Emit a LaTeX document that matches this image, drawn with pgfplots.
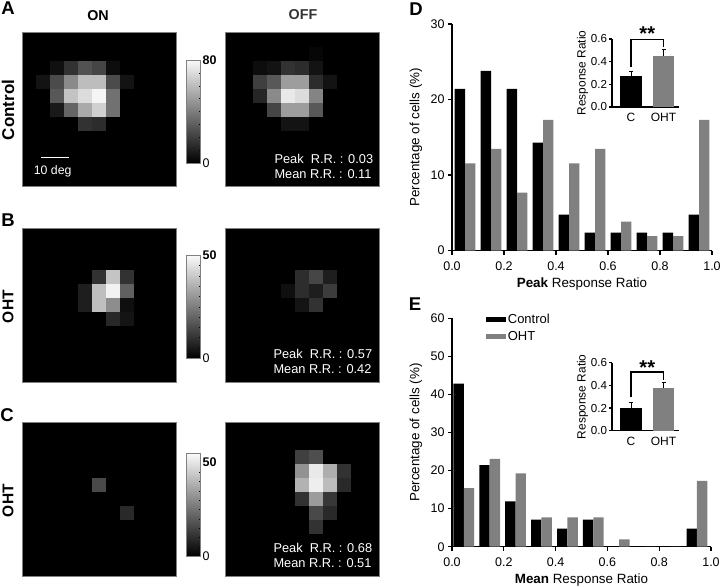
\documentclass[border=0pt]{standalone}
\usepackage{fontspec}
\setmainfont{Liberation Sans}
\usepackage{pgfplots}
\pgfplotsset{compat=1.18}

\definecolor{ohtgray}{HTML}{808080}
\newcommand{\fs}[1]{\fontsize{#1}{#1}\selectfont}

\pgfplotsset{
  heat/.style={
    scale only axis,width=154pt,height=154pt,
    xmin=-0.5,xmax=10.5,ymin=-0.5,ymax=10.5,y dir=reverse,
    ticks=none,axis line style={gray,line width=0.5pt},
    axis background/.style={fill=black},
    colormap={bw}{gray(0cm)=(0);gray(1cm)=(0.98)},
    enlargelimits=false,axis on top,
  },
  heatcells/.style={matrix plot*,shader=faceted,faceted color=mapped color,line width=0.2pt,mesh/cols=11,point meta=explicit},
  heatbar/.style n args={3}{
    colorbar,
    colorbar style={
      at={(parent axis.south east)},anchor=south west,xshift=2pt,yshift=#1,
      width=13.5pt,height=103pt,
      axis line style={gray,line width=0.7pt},
      ytick={0,#2},yticklabels={0,\textbf{#2}},
      minor y tick num=#3,
      ytick pos=right,yticklabel pos=right,
      tick align=inside,major tick length=0pt,minor tick length=1.5pt,
      minor tick style={black,line width=0.4pt},
      yticklabel style={font=\fs{12.5},xshift=-1pt,/pgf/number format/assume math mode=true},
    },
  },
  hist/.style={
    scale only axis,xmin=0,xmax=1,ymin=0,
    axis x line*=bottom,axis y line*=left,
    axis line style={-,line width=1.3pt},
    tick style={black,line width=1.3pt},tick align=outside,major tick length=4pt,
    xtick={0,0.2,0.4,0.6,0.8,1},
    xticklabel style={yshift=-4pt,font=\fs{12.5},/pgf/number format/.cd,fixed,fixed zerofill,precision=1,assume math mode=true},
    yticklabel style={font=\fs{12.5},/pgf/number format/assume math mode=true},
    ylabel={Percentage of cells (\%)},
    ylabel style={yshift=1.5pt},
    label style={font=\fs{13.4}},
    ybar=0pt,bar width=0.04,clip=false,
  },
  inset/.style={
    scale only axis,width=67pt,height=68pt,xmin=0.415,xmax=2.477,ymin=0,ymax=0.6,
    axis x line*=bottom,axis y line*=left,
    axis line style={-,line width=1.3pt},
    tick style={black,line width=1.3pt},tick align=outside,major tick length=3pt,
    xtick={1,2},xticklabels={C,OHT},
    ytick={0,0.2,0.4,0.6},
    x tick style={draw=none},
    xticklabel style={font=\fs{12}},
    yticklabel style={xshift=1.5pt,font=\fs{11.6},/pgf/number format/.cd,fixed,fixed zerofill,precision=1,assume math mode=true},
    ylabel={Response Ratio},
    ylabel style={yshift=-4pt},
    label style={font=\fs{11.9}},
    clip=false,
  },
  insbar/.style={ybar,bar width=0.66,bar shift=0pt,fill=#1,draw=none,
    error bars/.cd,y dir=plus,y explicit,
    error bar style={black,line width=1pt},
    error mark options={black,rotate=90,mark size=2pt,line width=1pt}},
}

\begin{document}
\begin{tikzpicture}
\useasboundingbox (0,0) rectangle (722pt,586pt);

% A ON
\begin{axis}[heat,at={(22pt,399.3pt)},anchor=south west,point meta min=0,point meta max=80,heatbar={23.7pt}{80}{7}]
\addplot[heatcells] coordinates {
(0,0)[0](1,0)[0](2,0)[0](3,0)[0](4,0)[0](5,0)[0](6,0)[0](7,0)[0](8,0)[0](9,0)[0](10,0)[0]
(0,1)[0](1,1)[0](2,1)[0](3,1)[0](4,1)[0](5,1)[0](6,1)[0](7,1)[0](8,1)[0](9,1)[0](10,1)[0]
(0,2)[0](1,2)[0](2,2)[5](3,2)[16](4,2)[26](5,2)[22](6,2)[4](7,2)[0](8,2)[0](9,2)[0](10,2)[0]
(0,3)[0](1,3)[6](2,3)[24](3,3)[44](4,3)[60](5,3)[60](6,3)[24](7,3)[6](8,3)[0](9,3)[0](10,3)[0]
(0,4)[0](1,4)[0](2,4)[28](3,4)[62](4,4)[70](5,4)[78](6,4)[36](7,4)[0](8,4)[0](9,4)[0](10,4)[0]
(0,5)[0](1,5)[0](2,5)[8](3,5)[32](4,5)[54](5,5)[66](6,5)[36](7,5)[0](8,5)[0](9,5)[0](10,5)[0]
(0,6)[0](1,6)[0](2,6)[0](3,6)[0](4,6)[16](5,6)[14](6,6)[0](7,6)[0](8,6)[0](9,6)[0](10,6)[0]
(0,7)[0](1,7)[0](2,7)[0](3,7)[0](4,7)[0](5,7)[0](6,7)[0](7,7)[0](8,7)[0](9,7)[0](10,7)[0]
(0,8)[0](1,8)[0](2,8)[0](3,8)[0](4,8)[0](5,8)[0](6,8)[0](7,8)[0](8,8)[0](9,8)[0](10,8)[0]
(0,9)[0](1,9)[0](2,9)[0](3,9)[0](4,9)[0](5,9)[0](6,9)[0](7,9)[0](8,9)[0](9,9)[0](10,9)[0]
(0,10)[0](1,10)[0](2,10)[0](3,10)[0](4,10)[0](5,10)[0](6,10)[0](7,10)[0](8,10)[0](9,10)[0](10,10)[0]
};
\end{axis}

% A OFF
\begin{axis}[heat,at={(225.3pt,399.3pt)},anchor=south west,point meta min=0,point meta max=80]
\addplot[heatcells] coordinates {
(0,0)[0](1,0)[0](2,0)[0](3,0)[0](4,0)[0](5,0)[0](6,0)[0](7,0)[0](8,0)[0](9,0)[0](10,0)[0]
(0,1)[0](1,1)[0](2,1)[0](3,1)[0](4,1)[0](5,1)[0](6,1)[2](7,1)[0](8,1)[0](9,1)[0](10,1)[0]
(0,2)[0](1,2)[0](2,2)[4](3,2)[6](4,2)[16](5,2)[14](6,2)[6](7,2)[0](8,2)[0](9,2)[0](10,2)[0]
(0,3)[0](1,3)[0](2,3)[20](3,3)[28](4,3)[50](5,3)[50](6,3)[14](7,3)[6](8,3)[0](9,3)[0](10,3)[0]
(0,4)[0](1,4)[0](2,4)[12](3,4)[44](4,4)[74](5,4)[70](6,4)[42](7,4)[0](8,4)[0](9,4)[0](10,4)[0]
(0,5)[0](1,5)[0](2,5)[0](3,5)[22](4,5)[50](5,5)[50](6,5)[28](7,5)[0](8,5)[0](9,5)[0](10,5)[0]
(0,6)[0](1,6)[0](2,6)[0](3,6)[0](4,6)[6](5,6)[6](6,6)[0](7,6)[0](8,6)[0](9,6)[0](10,6)[0]
(0,7)[0](1,7)[0](2,7)[0](3,7)[0](4,7)[0](5,7)[0](6,7)[0](7,7)[0](8,7)[0](9,7)[0](10,7)[0]
(0,8)[0](1,8)[0](2,8)[0](3,8)[0](4,8)[0](5,8)[0](6,8)[0](7,8)[0](8,8)[0](9,8)[0](10,8)[0]
(0,9)[0](1,9)[0](2,9)[0](3,9)[0](4,9)[0](5,9)[0](6,9)[0](7,9)[0](8,9)[0](9,9)[0](10,9)[0]
(0,10)[0](1,10)[0](2,10)[0](3,10)[0](4,10)[0](5,10)[0](6,10)[0](7,10)[0](8,10)[0](9,10)[0](10,10)[0]
};
\end{axis}

% B ON
\begin{axis}[heat,at={(22pt,203.7pt)},anchor=south west,point meta min=0,point meta max=50,heatbar={24pt}{50}{9}]
\addplot[heatcells] coordinates {
(0,0)[0](1,0)[0](2,0)[0](3,0)[0](4,0)[0](5,0)[0](6,0)[0](7,0)[0](8,0)[0](9,0)[0](10,0)[0]
(0,1)[0](1,1)[0](2,1)[0](3,1)[0](4,1)[0](5,1)[0](6,1)[0](7,1)[0](8,1)[0](9,1)[0](10,1)[0]
(0,2)[0](1,2)[0](2,2)[0](3,2)[0](4,2)[0](5,2)[0](6,2)[0](7,2)[0](8,2)[0](9,2)[0](10,2)[0]
(0,3)[0](1,3)[0](2,3)[0](3,3)[0](4,3)[0](5,3)[10](6,3)[39](7,3)[10](8,3)[0](9,3)[0](10,3)[0]
(0,4)[0](1,4)[0](2,4)[0](3,4)[0](4,4)[6](5,4)[38](6,4)[48](7,4)[19](8,4)[0](9,4)[0](10,4)[0]
(0,5)[0](1,5)[0](2,5)[0](3,5)[0](4,5)[6](5,5)[38](6,5)[28](7,5)[3](8,5)[0](9,5)[0](10,5)[0]
(0,6)[0](1,6)[0](2,6)[0](3,6)[0](4,6)[0](5,6)[0](6,6)[8](7,6)[4](8,6)[0](9,6)[0](10,6)[0]
(0,7)[0](1,7)[0](2,7)[0](3,7)[0](4,7)[0](5,7)[0](6,7)[0](7,7)[0](8,7)[0](9,7)[0](10,7)[0]
(0,8)[0](1,8)[0](2,8)[0](3,8)[0](4,8)[0](5,8)[0](6,8)[0](7,8)[0](8,8)[0](9,8)[0](10,8)[0]
(0,9)[0](1,9)[0](2,9)[0](3,9)[0](4,9)[0](5,9)[0](6,9)[0](7,9)[0](8,9)[0](9,9)[0](10,9)[0]
(0,10)[0](1,10)[0](2,10)[0](3,10)[0](4,10)[0](5,10)[0](6,10)[0](7,10)[0](8,10)[0](9,10)[0](10,10)[0]
};
\end{axis}

% B OFF
\begin{axis}[heat,at={(225.3pt,203.7pt)},anchor=south west,point meta min=0,point meta max=50]
\addplot[heatcells] coordinates {
(0,0)[0](1,0)[0](2,0)[0](3,0)[0](4,0)[0](5,0)[0](6,0)[0](7,0)[0](8,0)[0](9,0)[0](10,0)[0]
(0,1)[0](1,1)[0](2,1)[0](3,1)[0](4,1)[0](5,1)[0](6,1)[0](7,1)[0](8,1)[0](9,1)[0](10,1)[0]
(0,2)[0](1,2)[0](2,2)[0](3,2)[0](4,2)[0](5,2)[0](6,2)[0](7,2)[0](8,2)[0](9,2)[0](10,2)[0]
(0,3)[0](1,3)[0](2,3)[0](3,3)[0](4,3)[0](5,3)[9](6,3)[14](7,3)[6](8,3)[0](9,3)[0](10,3)[0]
(0,4)[0](1,4)[0](2,4)[0](3,4)[0](4,4)[3](5,4)[9](6,4)[6](7,4)[12](8,4)[0](9,4)[0](10,4)[0]
(0,5)[0](1,5)[0](2,5)[0](3,5)[0](4,5)[0](5,5)[4](6,5)[10](7,5)[0](8,5)[0](9,5)[0](10,5)[0]
(0,6)[0](1,6)[0](2,6)[0](3,6)[0](4,6)[0](5,6)[0](6,6)[0](7,6)[0](8,6)[0](9,6)[0](10,6)[0]
(0,7)[0](1,7)[0](2,7)[0](3,7)[0](4,7)[0](5,7)[0](6,7)[0](7,7)[0](8,7)[0](9,7)[0](10,7)[0]
(0,8)[0](1,8)[0](2,8)[0](3,8)[0](4,8)[0](5,8)[0](6,8)[0](7,8)[0](8,8)[0](9,8)[0](10,8)[0]
(0,9)[0](1,9)[0](2,9)[0](3,9)[0](4,9)[0](5,9)[0](6,9)[0](7,9)[0](8,9)[0](9,9)[0](10,9)[0]
(0,10)[0](1,10)[0](2,10)[0](3,10)[0](4,10)[0](5,10)[0](6,10)[0](7,10)[0](8,10)[0](9,10)[0](10,10)[0]
};
\end{axis}

% C ON
\begin{axis}[heat,at={(22pt,9.7pt)},anchor=south west,point meta min=0,point meta max=55,heatbar={20pt}{50}{9}]
\addplot[heatcells] coordinates {
(0,0)[0](1,0)[0](2,0)[0](3,0)[0](4,0)[0](5,0)[0](6,0)[0](7,0)[0](8,0)[0](9,0)[0](10,0)[0]
(0,1)[0](1,1)[0](2,1)[0](3,1)[0](4,1)[0](5,1)[0](6,1)[0](7,1)[0](8,1)[0](9,1)[0](10,1)[0]
(0,2)[0](1,2)[0](2,2)[0](3,2)[0](4,2)[0](5,2)[0](6,2)[0](7,2)[0](8,2)[0](9,2)[0](10,2)[0]
(0,3)[0](1,3)[0](2,3)[0](3,3)[0](4,3)[0](5,3)[0](6,3)[0](7,3)[0](8,3)[0](9,3)[0](10,3)[0]
(0,4)[0](1,4)[0](2,4)[0](3,4)[0](4,4)[0](5,4)[16](6,4)[0](7,4)[0](8,4)[0](9,4)[0](10,4)[0]
(0,5)[0](1,5)[0](2,5)[0](3,5)[0](4,5)[0](5,5)[0](6,5)[0](7,5)[0](8,5)[0](9,5)[0](10,5)[0]
(0,6)[0](1,6)[0](2,6)[0](3,6)[0](4,6)[0](5,6)[0](6,6)[0](7,6)[9](8,6)[0](9,6)[0](10,6)[0]
(0,7)[0](1,7)[0](2,7)[0](3,7)[0](4,7)[0](5,7)[0](6,7)[0](7,7)[0](8,7)[0](9,7)[0](10,7)[0]
(0,8)[0](1,8)[0](2,8)[0](3,8)[0](4,8)[0](5,8)[0](6,8)[0](7,8)[0](8,8)[0](9,8)[0](10,8)[0]
(0,9)[0](1,9)[0](2,9)[0](3,9)[0](4,9)[0](5,9)[0](6,9)[0](7,9)[0](8,9)[0](9,9)[0](10,9)[0]
(0,10)[0](1,10)[0](2,10)[0](3,10)[0](4,10)[0](5,10)[0](6,10)[0](7,10)[0](8,10)[0](9,10)[0](10,10)[0]
};
\end{axis}

% C OFF
\begin{axis}[heat,at={(225.3pt,9.7pt)},anchor=south west,point meta min=0,point meta max=55]
\addplot[heatcells] coordinates {
(0,0)[0](1,0)[0](2,0)[0](3,0)[0](4,0)[0](5,0)[0](6,0)[0](7,0)[0](8,0)[0](9,0)[0](10,0)[0]
(0,1)[0](1,1)[0](2,1)[0](3,1)[0](4,1)[0](5,1)[0](6,1)[0](7,1)[0](8,1)[0](9,1)[0](10,1)[0]
(0,2)[0](1,2)[0](2,2)[0](3,2)[0](4,2)[0](5,2)[14](6,2)[17](7,2)[0](8,2)[0](9,2)[0](10,2)[0]
(0,3)[0](1,3)[0](2,3)[0](3,3)[0](4,3)[0](5,3)[32](6,3)[51](7,3)[38](8,3)[11](9,3)[0](10,3)[0]
(0,4)[0](1,4)[0](2,4)[0](3,4)[0](4,4)[0](5,4)[39](6,4)[52](7,4)[41](8,4)[9](9,4)[0](10,4)[0]
(0,5)[0](1,5)[0](2,5)[0](3,5)[0](4,5)[0](5,5)[11](6,5)[34](7,5)[12](8,5)[0](9,5)[0](10,5)[0]
(0,6)[0](1,6)[0](2,6)[0](3,6)[0](4,6)[0](5,6)[0](6,6)[16](7,6)[9](8,6)[0](9,6)[0](10,6)[0]
(0,7)[0](1,7)[0](2,7)[0](3,7)[0](4,7)[0](5,7)[0](6,7)[11](7,7)[0](8,7)[0](9,7)[0](10,7)[0]
(0,8)[0](1,8)[0](2,8)[0](3,8)[0](4,8)[0](5,8)[0](6,8)[0](7,8)[0](8,8)[0](9,8)[0](10,8)[0]
(0,9)[0](1,9)[0](2,9)[0](3,9)[0](4,9)[0](5,9)[0](6,9)[0](7,9)[0](8,9)[0](9,9)[0](10,9)[0]
(0,10)[0](1,10)[0](2,10)[0](3,10)[0](4,10)[0](5,10)[0](6,10)[0](7,10)[0](8,10)[0](9,10)[0](10,10)[0]
};
\end{axis}

% D histogram
\begin{axis}[hist,at={(452pt,335.3pt)},anchor=south west,width=260pt,height=226.7pt,ymax=30,
  ytick={0,10,20,30},xlabel={\textbf{Peak} Response Ratio}]
\addplot[fill=black,draw=none] coordinates {(0.05,21.43)(0.15,23.81)(0.25,21.43)(0.35,14.29)(0.45,4.76)(0.55,2.38)(0.65,2.38)(0.75,2.38)(0.85,2.38)(0.95,4.76)};
\addplot[fill=ohtgray,draw=none] coordinates {(0.05,11.54)(0.15,13.46)(0.25,7.69)(0.35,17.31)(0.45,11.54)(0.55,13.46)(0.65,3.85)(0.75,1.92)(0.85,1.92)(0.95,17.31)};
\end{axis}

% D inset
\begin{axis}[inset,at={(612pt,479pt)},anchor=south west]
\addplot[insbar=black] coordinates {(1,0.275) +- (0,0.038)};
\addplot[insbar=ohtgray] coordinates {(2,0.45) +- (0,0.053)};
\addplot[black,line width=1.2pt] coordinates {(1,0.354)(1,0.597)(2,0.597)(2,0.53)};
\node[font=\bfseries\fs{20}] at (axis cs:1.5,0.645) {**};
\end{axis}

% E histogram
\begin{axis}[hist,at={(452pt,39.3pt)},anchor=south west,width=259pt,height=228.4pt,ymax=60,
  ytick={0,10,20,30,40,50,60},xlabel={\textbf{Mean} Response Ratio},
  legend style={at={(0.13,1.028)},anchor=north west,draw=none,fill=none,font=\fs{13},row sep=2pt,inner sep=0pt},
  legend cell align=left,
  legend image code/.code={\fill[#1] (0pt,-2.3pt) rectangle (20pt,2.3pt);}]
\addplot[fill=black,draw=none] coordinates {(0.0455,42.86)(0.1455,21.43)(0.2455,11.9)(0.3455,7.14)(0.4455,4.76)(0.5455,7.14)(0.6455,0)(0.7455,0)(0.8455,0)(0.9455,4.76)};
\addplot[fill=ohtgray,draw=none] coordinates {(0.0455,15.38)(0.1455,23.08)(0.2455,19.23)(0.3455,7.69)(0.4455,7.69)(0.5455,7.69)(0.6455,1.92)(0.7455,0)(0.8455,0)(0.9455,17.31)};
\legend{Control,OHT}
\end{axis}

% E inset
\begin{axis}[inset,at={(612pt,155.3pt)},anchor=south west]
\addplot[insbar=black] coordinates {(1,0.203) +- (0,0.044)};
\addplot[insbar=ohtgray] coordinates {(2,0.376) +- (0,0.05)};
\addplot[black,line width=1.2pt] coordinates {(1,0.3)(1,0.518)(2,0.518)(2,0.447)};
\node[font=\bfseries\fs{20}] at (axis cs:1.5,0.56) {**};
\end{axis}

% panel letters and headings
\begin{scope}[every node/.style={inner sep=0pt}]
\node[font=\bfseries\fs{18.5}] at (8pt,578pt) {A};
\node[font=\bfseries\fs{18.5}] at (8pt,366pt) {B};
\node[font=\bfseries\fs{18.5}] at (7pt,171pt) {C};
\node[font=\bfseries\fs{18.5}] at (416pt,577pt) {D};
\node[font=\bfseries\fs{18.5}] at (415pt,282pt) {E};
\node[font=\bfseries\fs{14.3}] at (98pt,570.5pt) {ON};
\node[font=\bfseries\fs{14.3},text=black!80] at (303pt,571pt) {OFF};
\node[font=\bfseries\fs{17},rotate=90] at (8pt,476pt) {Control};
\node[font=\bfseries\fs{15.5},rotate=90] at (8pt,279.3pt) {OHT};
\node[font=\bfseries\fs{15.5},rotate=90] at (8pt,85.3pt) {OHT};
\draw[white,line width=1.2pt] (41.3pt,428.7pt) -- (69pt,428.7pt);
\node[white,font=\fs{12.3}] at (52.7pt,415pt) {10 deg};
\node[white,font=\fs{12.8},anchor=west] at (274.3pt,426.7pt) {Peak\ \ R.R. : 0.03};
\node[white,font=\fs{12.8},anchor=west] at (274.3pt,412pt) {Mean R.R. : 0.11};
\node[white,font=\fs{12.8},anchor=west] at (273.3pt,232pt) {Peak\ \ R.R. : 0.57};
\node[white,font=\fs{12.8},anchor=west] at (273.3pt,217pt) {Mean R.R. : 0.42};
\node[white,font=\fs{12.8},anchor=west] at (273.3pt,38pt) {Peak\ \ R.R. : 0.68};
\node[white,font=\fs{12.8},anchor=west] at (273.3pt,23pt) {Mean R.R. : 0.51};
\end{scope}
\end{tikzpicture}
\end{document}
